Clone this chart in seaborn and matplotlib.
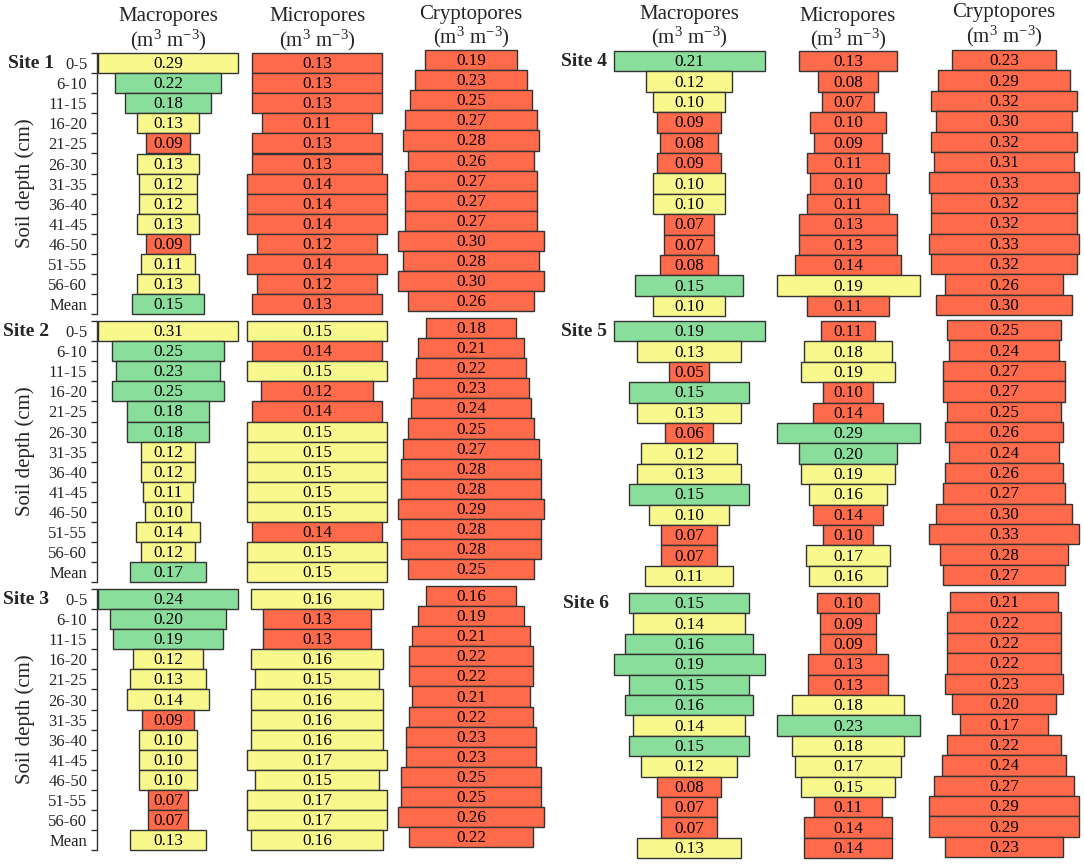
import numpy as np
import matplotlib
matplotlib.use('Agg')
import matplotlib.pyplot as plt
import seaborn as sns

sns.set_theme(style='white')
plt.rcParams['font.family'] = ['Liberation Serif', 'DejaVu Serif']
plt.rcParams['mathtext.fontset'] = 'custom'
plt.rcParams['mathtext.rm'] = 'Liberation Serif'
plt.rcParams['mathtext.it'] = 'Liberation Serif:italic'

depths = ['0-5', '6-10', '11-15', '16-20', '21-25', '26-30', '31-35',
          '36-40', '41-45', '46-50', '51-55', '56-60', 'Mean']
sites = ['Site 1', 'Site 2', 'Site 3', 'Site 4', 'Site 5', 'Site 6']
pores = ['Macropores', 'Micropores', 'Cryptopores']

# values per site (macro, micro, crypto) and class codes g/y/r
s1_macro = [0.29, 0.22, 0.18, 0.13, 0.09, 0.13, 0.12, 0.12, 0.13, 0.09, 0.11, 0.13, 0.15]
s1_micro = [0.13, 0.13, 0.13, 0.11, 0.13, 0.13, 0.14, 0.14, 0.14, 0.12, 0.14, 0.12, 0.13]
s1_crypto = [0.19, 0.23, 0.25, 0.27, 0.28, 0.26, 0.27, 0.27, 0.27, 0.30, 0.28, 0.30, 0.26]
s1_cls = ['yggyryyyyryyg', 'rrrrrrrrrrrrr', 'rrrrrrrrrrrrr']

s2_macro = [0.31, 0.25, 0.23, 0.25, 0.18, 0.18, 0.12, 0.12, 0.11, 0.10, 0.14, 0.12, 0.17]
s2_micro = [0.15, 0.14, 0.15, 0.12, 0.14, 0.15, 0.15, 0.15, 0.15, 0.15, 0.14, 0.15, 0.15]
s2_crypto = [0.18, 0.21, 0.22, 0.23, 0.24, 0.25, 0.27, 0.28, 0.28, 0.29, 0.28, 0.28, 0.25]
s2_cls = ['ygggggyyyyyyg', 'yryrryyyyyryy', 'rrrrrrrrrrrrr']

s3_macro = [0.24, 0.20, 0.19, 0.12, 0.13, 0.14, 0.09, 0.10, 0.10, 0.10, 0.07, 0.07, 0.13]
s3_micro = [0.16, 0.13, 0.13, 0.16, 0.15, 0.16, 0.16, 0.16, 0.17, 0.15, 0.17, 0.17, 0.16]
s3_crypto = [0.16, 0.19, 0.21, 0.22, 0.22, 0.21, 0.22, 0.23, 0.23, 0.25, 0.25, 0.26, 0.22]
s3_cls = ['gggyyyryyyrry', 'yrryyyyyyyyyy', 'rrrrrrrrrrrrr']

s4_macro = [0.21, 0.12, 0.10, 0.09, 0.08, 0.09, 0.10, 0.10, 0.07, 0.07, 0.08, 0.15, 0.10]
s4_micro = [0.13, 0.08, 0.07, 0.10, 0.09, 0.11, 0.10, 0.11, 0.13, 0.13, 0.14, 0.19, 0.11]
s4_crypto = [0.23, 0.29, 0.32, 0.30, 0.32, 0.31, 0.33, 0.32, 0.32, 0.33, 0.32, 0.26, 0.30]
s4_cls = ['gyyrrryyrrrgy', 'rrrrrrrrrrryr', 'rrrrrrrrrrrrr']

s5_macro = [0.19, 0.13, 0.05, 0.15, 0.13, 0.06, 0.12, 0.13, 0.15, 0.10, 0.07, 0.07, 0.11]
s5_micro = [0.11, 0.18, 0.19, 0.10, 0.14, 0.29, 0.20, 0.19, 0.16, 0.14, 0.10, 0.17, 0.16]
s5_crypto = [0.25, 0.24, 0.27, 0.27, 0.25, 0.26, 0.24, 0.26, 0.27, 0.30, 0.33, 0.28, 0.27]
s5_cls = ['gyrgyryygyrry', 'ryyrrggyyrryy', 'rrrrrrrrrrrrr']

s6_macro = [0.15, 0.14, 0.16, 0.19, 0.15, 0.16, 0.14, 0.15, 0.12, 0.08, 0.07, 0.07, 0.13]
s6_micro = [0.10, 0.09, 0.09, 0.13, 0.13, 0.18, 0.23, 0.18, 0.17, 0.15, 0.11, 0.14, 0.14]
s6_crypto = [0.21, 0.22, 0.22, 0.22, 0.23, 0.20, 0.17, 0.22, 0.24, 0.27, 0.29, 0.29, 0.23]
s6_cls = ['gyggggygyrrry', 'rrrrrygyyyrrr', 'rrrrrrrrrrrrr']

site_data = [
    (s1_macro, s1_micro, s1_crypto, s1_cls),
    (s2_macro, s2_micro, s2_crypto, s2_cls),
    (s3_macro, s3_micro, s3_crypto, s3_cls),
    (s4_macro, s4_micro, s4_crypto, s4_cls),
    (s5_macro, s5_micro, s5_crypto, s5_cls),
    (s6_macro, s6_micro, s6_crypto, s6_cls),
]

pal = {'g': '#8ade9b', 'y': '#f8f88c', 'r': '#ff6a4a'}

FW, FH = 1084, 864
fig = plt.figure(figsize=(FW / 100, FH / 100), dpi=100)


def px_axes(x0, y0, w, h):
    return fig.add_axes([x0 / FW, 1 - (y0 + h) / FH, w / FW, h / FH])


# layout (pixels)
col_centers = [[168, 317, 471], [689, 848, 1004]]
col_widths = [[140, 140, 146], [151, 143, 150]]
col_dy = [[0, 0, -3], [0, 0, -1]]
block_tops = [[53, 321, 589], [51, 321, 593]]
row_h = [20.1, 20.4]

for k, (macro, micro, crypto, cls) in enumerate(site_data):
    half = k // 3
    b = k % 3
    top = block_tops[half][b]
    h = 13 * row_h[half]
    for j, vals in enumerate([macro, micro, crypto]):
        vals = np.array(vals)
        w = col_widths[half][j]
        ax = px_axes(col_centers[half][j] - w / 2, top + col_dy[half][j], w, h)
        bars = ax.barh(np.arange(len(depths)), vals, left=-vals / 2, height=1.0,
                       color=[pal[c] for c in cls[j]], edgecolor='#333333',
                       linewidth=1.0)
        for p in bars:
            p.set_clip_on(False)
        vmax = vals.max()
        ax.set_xlim(-vmax / 2, vmax / 2)
        ax.set_ylim(len(depths) - 0.5, -0.5)
        ax.axis('off')
        for i, v in enumerate(vals):
            ax.text(0, i + 0.05, f'{v:.2f}', ha='center', va='center',
                    fontsize=12.3, color='black')

    # site label
    sx = [[8, 3, 3], [561, 561, 563]][half][b]
    fig.text(sx / FW, 1 - (top + row_h[half] / 2) / FH, sites[k],
             fontsize=14, fontweight='bold', ha='left', va='center')

    # depth axis on left half
    if half == 0:
        at = px_axes(97, top, 1, h)
        at.set_facecolor('none')
        for s in ['top', 'right', 'bottom']:
            at.spines[s].set_visible(False)
        at.spines['left'].set_color('#333333')
        at.spines['left'].set_linewidth(1.0)
        at.set_ylim(len(depths) - 0.5, -0.5)
        at.set_yticks(np.arange(len(depths)))
        at.set_yticklabels(depths)
        at.set_yticks(np.arange(-0.5, len(depths)), minor=True)
        at.set_xticks([])
        at.tick_params(axis='y', which='major', length=0, pad=7, labelsize=12)
        at.tick_params(axis='y', which='minor', length=4, width=1.0,
                       direction='out', color='#333333', left=True)
        fig.text(25 / FW, 1 - (top + h / 2) / FH, 'Soil depth (cm)',
                 rotation=90, fontsize=15, ha='center', va='center')

# column headers
hdr_y = [[[17, 40], [17, 40], [14, 37]], [[14, 37], [16, 39], [13, 36]]]
for half in range(2):
    for j, name in enumerate(pores):
        cx = col_centers[half][j]
        fig.text(cx / FW, 1 - hdr_y[half][j][0] / FH, name, fontsize=15,
                 ha='center', va='center')
        fig.text(cx / FW, 1 - hdr_y[half][j][1] / FH, r'(m$^{3}$ m$^{-3}$)',
                 fontsize=15, ha='center', va='center')

fig.savefig('out.png', dpi=100, facecolor='white')
